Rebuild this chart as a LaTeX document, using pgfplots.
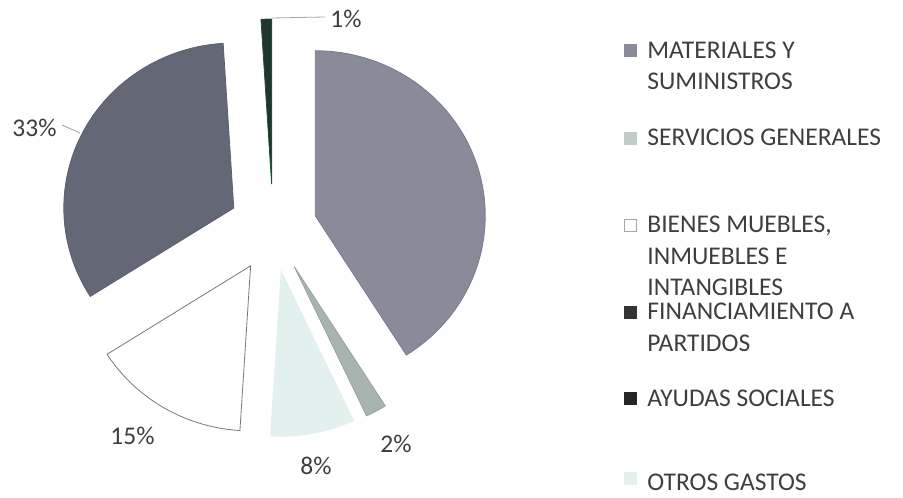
\documentclass[border=0pt]{standalone}
\usepackage{pgfplots}
\usepackage{pgfplotstable}
\pgfplotsset{compat=1.18}
\usepackage{fontspec}
\setmainfont{Carlito}

% slices in clockwise order from 12 o'clock
\pgfplotstableread{
idx value
0 41
1 2
2 8
3 15
4 33
5 1
}\piedata

\definecolor{c0}{RGB}{138,139,154}
\definecolor{d0}{RGB}{122,123,138}
\definecolor{c1}{RGB}{168,180,176}
\definecolor{d1}{RGB}{150,163,158}
\definecolor{c2}{RGB}{226,240,238}
\definecolor{d2}{RGB}{226,240,238}
\definecolor{c3}{RGB}{255,255,255}
\definecolor{d3}{RGB}{120,120,120}
\definecolor{c4}{RGB}{100,104,118}
\definecolor{d4}{RGB}{92,96,110}
\definecolor{c5}{RGB}{34,52,46}
\definecolor{d5}{RGB}{30,80,50}
\definecolor{txt}{RGB}{62,62,62}

\def\Ox{273}\def\Oy{269}\def\Rx{170}\def\Ry{165}\def\E{44}

\begin{document}
\begin{tikzpicture}
\xdef\cumsum{0}
\foreach \i in {0,...,5}{%
  \pgfplotstablegetelem{\i}{value}\of\piedata
  \let\v\pgfplotsretval
  \pgfmathsetmacro\tA{90-3.6*\cumsum}%
  \pgfmathsetmacro\tB{90-3.6*(\cumsum+\v)}%
  \pgfmathsetmacro\tM{(\tA+\tB)/2}%
  \pgfmathsetmacro\ax{\Ox+\E*cos(\tM)}%
  \pgfmathsetmacro\ay{\Oy+\E*sin(\tM)}%
  \pgfmathsetmacro\newcum{\cumsum+\v}%
  \expandafter\xdef\csname tA\i\endcsname{\tA}%
  \expandafter\xdef\csname tB\i\endcsname{\tB}%
  \expandafter\xdef\csname ax\i\endcsname{\ax}%
  \expandafter\xdef\csname ay\i\endcsname{\ay}%
  \xdef\cumsum{\newcum}%
}
\begin{axis}[
  width=451.5pt, height=248.5pt, scale only axis,
  xmin=0, xmax=903, ymin=0, ymax=497,
  hide axis, clip=false,
]
\path (rel axis cs:0,0) rectangle (rel axis cs:1,1);
\pgfplotsinvokeforeach{0,...,5}{
  \addplot[fill=c#1, draw=d#1, line width=0.4pt, samples=80, variable=\t,
    domain={\csname tB#1\endcsname}:{\csname tA#1\endcsname}]
    ({\csname ax#1\endcsname+\Rx*cos(\t)}, {\csname ay#1\endcsname+\Ry*sin(\t)})
    -- (axis cs:\csname ax#1\endcsname,\csname ay#1\endcsname) -- cycle;
}
% legend keys
\addplot[only marks, mark=square*, mark size=3pt, mark options={fill=c0, draw=c0}] coordinates {(630,447)};
\addplot[only marks, mark=square*, mark size=3pt, mark options={fill=c1!70!white, draw=c1!70!white}] coordinates {(630,359)};
\addplot[only marks, mark=square*, mark size=3pt, mark options={fill=white, draw=gray!70}] coordinates {(630,272)};
\addplot[only marks, mark=square*, mark size=3pt, mark options={fill=black!80, draw=black!80}] coordinates {(630,185)};
\addplot[only marks, mark=square*, mark size=3pt, mark options={fill=black!85, draw=black!85}] coordinates {(630,99)};
\addplot[only marks, mark=square*, mark size=3pt, mark options={fill=c2, draw=c2}] coordinates {(630,19)};

% leader lines
\draw[gray!70, line width=0.4pt] (axis cs:272,479) -- (axis cs:325,480);
\draw[gray!70, line width=0.4pt] (axis cs:62,372) -- (axis cs:80,364);

\begin{scope}[every node/.style={anchor=base west, inner sep=0pt, text=txt, font=\fontsize{12.75}{15}\selectfont}]
\node at (axis cs:647,438.7) {MATERIALES Y};
\node at (axis cs:647,407) {SUMINISTROS};
\node at (axis cs:647,351) {SERVICIOS GENERALES};
\node at (axis cs:647,264) {BIENES MUEBLES,};
\node at (axis cs:647,232.5) {INMUEBLES E};
\node at (axis cs:647,201) {INTANGIBLES};
\node at (axis cs:647,177) {FINANCIAMIENTO A};
\node at (axis cs:647,145) {PARTIDOS};
\node at (axis cs:647,90.3) {AYUDAS SOCIALES};
\node at (axis cs:647,7) {OTROS GASTOS};
\node at (axis cs:330,469) {1\%};
\node at (axis cs:12,360) {33\%};
\node at (axis cs:110,52) {15\%};
\node at (axis cs:300,22) {8\%};
\node at (axis cs:380,44) {2\%};
\end{scope}
\end{axis}
\end{tikzpicture}
\end{document}
